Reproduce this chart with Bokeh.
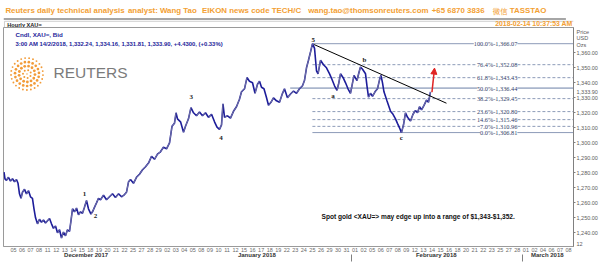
import numpy as np
from bokeh.plotting import figure
from bokeh.layouts import column
from bokeh.models import (LabelSet, ColumnDataSource, LinearAxis, FixedTicker,
                          Range1d, Arrow, NormalHead, NumeralTickFormatter)
from bokeh.core.properties import value
from bokeh.embed import file_html
from bokeh.resources import INLINE

# ---------------- data ----------------
day_labels = ["05", "06", "07", "08", "11", "12", "13", "14", "15", "18", "19", "20", "21", "22", "25",
              "27", "28", "29",
              "02", "03", "04", "05", "08", "09", "10", "11", "12", "15", "16", "17", "18", "19", "22",
              "23", "24", "25", "26", "29", "30", "31",
              "01", "02", "05", "06", "07", "08", "09", "12", "13", "14", "15", "16", "18", "20", "21",
              "22", "23", "25", "27", "28",
              "01", "02", "04", "06", "07", "08"]
month_names = ["December 2017", "January 2018", "February 2018", "March 2018"]
month_center = [8.5, 28.5, 49.5, 62.5]
month_bounds = [39.6, 59.6]

price_idx = [-1.11, -1.0, -0.82, -0.59, -0.35, -0.12, 0.12, 0.35, 0.53, 0.70, 0.88, 1.05, 1.29, 1.52,
             1.76, 1.99, 2.22, 2.40, 2.58, 2.81, 3.04, 3.28, 3.51, 3.75, 3.98, 4.22, 4.45, 4.68, 4.92,
             5.15, 5.39, 5.62, 5.85, 6.09, 6.32, 6.56, 6.73, 6.91, 7.14, 7.38, 7.61, 7.85, 8.08, 8.31,
             8.55, 8.78, 9.07, 9.25, 9.48, 9.72, 9.95, 10.19, 10.54, 10.89, 11.24, 11.59, 11.94, 12.30,
             12.65, 13.0, 13.23, 13.47, 13.70, 14.05, 14.40, 14.75, 15.11, 15.46, 15.81, 16.16, 16.51,
             16.86, 17.21, 17.56, 17.92, 18.27, 18.56, 18.85, 19.03, 19.2, 19.56, 19.91, 20.14, 20.49,
             20.78, 21.08, 21.43, 21.78, 22.13, 22.48, 22.83, 23.19, 23.54, 23.83, 24.12, 24.36, 24.53,
             24.71, 25.06, 25.41, 25.76, 26.11, 26.46, 26.70, 27.05, 27.34, 27.63, 27.99, 28.28, 28.57,
             28.81, 29.04, 29.33, 29.63, 29.86, 30.15, 30.44, 30.80, 31.15, 31.50, 31.73, 32.08, 32.44,
             32.79, 33.14, 33.49, 33.84, 34.07, 34.31, 34.54, 34.78, 35.01, 35.25, 35.48, 35.66, 35.95,
             36.30, 36.65, 37.01, 37.24, 37.59, 37.88, 38.06, 38.29, 38.64, 38.88, 39.17, 39.46, 39.70,
             39.87, 40.22, 40.46, 40.63, 40.87, 41.22, 41.39, 41.57, 41.80, 42.04, 42.33, 42.62, 42.86,
             43.03, 43.21, 43.38, 43.73, 43.97, 44.15, 44.44, 44.73, 44.96, 45.20, 45.43, 45.67, 45.90,
             46.14, 46.49, 46.78, 47.07, 47.31, 47.54, 47.78, 48.07, 48.36, 48.59, 48.83]
price_val = [1280.5, 1276, 1275, 1277, 1274.5, 1276, 1274, 1275.5, 1273, 1266, 1263, 1267, 1269, 1266,
             1268, 1264, 1263, 1256, 1250, 1246, 1249, 1247, 1248.5, 1246.5, 1248, 1249.5, 1246, 1243, 1244.5,
             1240, 1242, 1236.5, 1240.5, 1238, 1242, 1241, 1248, 1256, 1254, 1256.5, 1252, 1254, 1253, 1257,
             1261.5, 1256, 1252.5, 1254, 1257, 1260, 1263, 1262, 1265, 1262, 1264, 1266, 1263.5, 1266,
             1264, 1265.5, 1267, 1274, 1275.5, 1273, 1277, 1279, 1282, 1284, 1286.5, 1291, 1289,
             1292.5, 1294, 1297, 1296, 1300, 1311, 1313, 1320, 1316, 1314, 1307, 1311, 1316,
             1323.5, 1320, 1318, 1320.5, 1318, 1320, 1317, 1319, 1314, 1310.5, 1309, 1312, 1326,
             1317, 1318, 1316.5, 1321, 1324, 1329, 1334, 1336, 1343.5, 1341, 1340, 1333, 1339,
             1341, 1337, 1336, 1330, 1325, 1327, 1330, 1328, 1327, 1333, 1336, 1330, 1332.5,
             1334.5, 1333, 1336, 1338, 1341.5, 1350, 1355, 1360.5, 1366.1, 1363, 1348, 1346, 1355,
             1352, 1350, 1346, 1343, 1338, 1335, 1339, 1346, 1343, 1340, 1336, 1333, 1340,
             1345, 1341.5, 1347, 1350.5, 1349, 1346, 1338, 1330.5, 1333, 1331, 1334, 1336, 1342,
             1345, 1340, 1334, 1328, 1324, 1321, 1319, 1316, 1313, 1310, 1306.8, 1312, 1320,
             1317, 1314.5, 1319, 1321.5, 1320, 1324, 1322, 1325, 1328.5, 1327, 1333.9]
assert len(price_idx) == len(price_val)

fib_pct = [100.0, 76.4, 61.8, 50.0, 38.2, 23.6, 14.6, 7.0, 0.0]
fib_price = [1366.07, 1352.08, 1343.43, 1336.44, 1329.45, 1320.80, 1315.46, 1310.96, 1306.81]
fib_start = 35.0
fib_mid_start = 32.4

wave_text = ["1", "2", "3", "4", "5", "a", "b", "c"]
wave_idx = [8.3, 9.6, 20.8, 24.3, 35.1, 37.4, 41.1, 45.4]
wave_price = [1266.2, 1251.5, 1330.4, 1303.1, 1368.7, 1331.5, 1355.5, 1302.9]

trend_idx = [35.2, 50.7]
trend_price = [1365.5, 1326.4]
arrow_idx = [49.0, 49.3]
arrow_price = [1333.8, 1349.8]

last_price = 1333.90
y_ticks = [float(v) for v in range(1240, 1361, 10)]
unit_text = ["Price", "USD", "Ozs"]
unit_price = [1374.2, 1369.9, 1365.5]
corner_price = 1232.5

# ---------------- layout constants ----------------
FL, FR = 3, 573
FT, FB = 27, 246
X0, X1 = -1.171, 65.574
Y0, Y1 = 1230.87, 1376.87
FONT = "Liberation Sans"
ORANGE = "#f3a033"
NAVY = "#1d1d9a"


def px2x(cx):
    return X0 + (cx - FL) / (FR - FL) * (X1 - X0)


def px2y(cy):
    return Y0 + (FB - cy) / (FB - FT) * (Y1 - Y0)


def deco_fig(h):
    f = figure(width=600, height=h, x_range=Range1d(0, 600), y_range=Range1d(h, 0),
               output_backend="svg", toolbar_location=None, min_border=0,
               x_axis_location=None, y_axis_location=None, title=None)
    f.grid.visible = False
    f.outline_line_color = None
    f.background_fill_color = "white"
    f.border_fill_color = "white"
    return f


# ---------------- header ----------------
hf = deco_fig(27)
hdr_x = [2, 131, 209, 320.7, 450.7, 533]
hdr_t = ["Reuters daily technical analysis", "analyst: Wang Tao", "EIKON news code TECH/C",
         "wang.tao@thomsonreuters.com", "+65 6870 3836", "TASSTAO"]
hf.text(x=hdr_x, y=[9.5] * len(hdr_x), text=hdr_t, text_font=value(FONT),
        text_font_size=value("7.9px"), text_font_style="bold", text_color=ORANGE,
        text_baseline="middle")
hf.text(x=[515], y=[9.5], text=["微信"], text_font=value("Noto Sans CJK SC"),
        text_font_size=value("7.4px"), text_color=ORANGE, text_baseline="middle")
hf.quad(left=[0], right=[592], top=[17.4], bottom=[19.6], fill_color="#a6a6a6", line_color=None)
hf.segment(x0=[1], y0=[20.8], x1=[600], y1=[20.8], line_color="#c4c4c4", line_width=0.8)
hf.segment(x0=[1], y0=[20.8], x1=[1], y1=[27], line_color="#c4c4c4", line_width=0.8)
hf.text(x=[4], y=[24], text=["Hourly XAU="], text_font=value(FONT), text_font_size=value("5.6px"),
        text_font_style="bold", text_color="#222222", text_baseline="middle")
hf.text(x=[599], y=[23], text=["2018-02-14 10:37:53 AM"], text_font=value(FONT),
        text_font_size=value("6.9px"), text_font_style="bold", text_color=ORANGE,
        text_baseline="middle", text_align="right")

# ---------------- main chart ----------------
p = figure(frame_width=FR - FL, frame_height=FB - FT, x_range=Range1d(X0, X1),
           y_range=Range1d(Y0, Y1), output_backend="svg", toolbar_location=None,
           y_axis_location="right", title=None,
           min_border_left=FL, min_border_right=600 - FR, min_border_top=0, min_border_bottom=16)
p.grid.visible = False
p.outline_line_color = "#9a9a9a"
p.background_fill_color = "white"
p.border_fill_color = "white"

ya = p.yaxis[0]
extra = {k: t for k, t in zip(unit_price, unit_text)}
extra[last_price] = f"{last_price:,.2f}"
extra[corner_price] = "12"
ya.ticker = FixedTicker(ticks=y_ticks + list(extra.keys()), minor_ticks=y_ticks)
ya.formatter = NumeralTickFormatter(format="0,0.00")
ya.major_label_overrides = extra
ya.major_label_text_font = FONT
ya.major_label_text_font_size = "5.5px"
ya.major_label_text_color = "#5a5a5a"
ya.major_tick_out = 0
ya.major_tick_in = 0
ya.minor_tick_out = 2
ya.minor_tick_in = 0
ya.major_label_standoff = 1
ya.axis_line_color = "#808080"
ya.minor_tick_line_color = "#808080"

xa = p.xaxis[0]
xa.ticker = FixedTicker(ticks=list(range(len(day_labels))))
xa.major_label_overrides = {i: lab for i, lab in enumerate(day_labels)}
xa.major_label_text_font = FONT
xa.major_label_text_font_size = "5.5px"
xa.major_label_text_color = "#6a6a6a"
xa.major_tick_out = 0
xa.major_tick_in = 0
xa.minor_tick_out = 0
xa.minor_tick_in = 0
xa.major_label_standoff = 1
xa.axis_line_color = "#9a9a9a"

ma = LinearAxis(ticker=FixedTicker(ticks=month_center, minor_ticks=month_bounds),
                major_label_overrides={c: n for c, n in zip(month_center, month_names)})
ma.major_label_text_font = FONT
ma.major_label_text_font_size = "6px"
ma.major_label_text_font_style = "bold"
ma.major_label_text_color = "#333333"
ma.major_tick_out = 0
ma.major_tick_in = 0
ma.minor_tick_out = 0
try:
    ma.minor_tick_in = -7
except Exception:
    ma.minor_tick_in = 0
ma.minor_tick_line_color = "#808080"
ma.major_label_standoff = -3
ma.axis_line_color = None
p.add_layout(ma, "below")

# fib lines
for pct, pr in zip(fib_pct, fib_price):
    if pct == 50.0:
        p.line([fib_mid_start, X1], [pr, pr], line_color="#aab6cc", line_width=1.6)
    elif pct in (100.0, 0.0):
        p.line([fib_start, X1], [pr, pr], line_color="#8d9bb8", line_width=1)
    else:
        p.line([fib_start, X1], [pr, pr], line_color="#8d9bb8", line_width=1, line_dash="3 2")

fib_src = ColumnDataSource(dict(
    x=[59.0] * len(fib_pct), y=fib_price,
    t=[f"{pc:.1f}%-{pr:,.2f}" for pc, pr in zip(fib_pct, fib_price)]))
p.add_layout(LabelSet(x="x", y="y", text="t", source=fib_src, text_align="right",
                      text_baseline="middle", text_font_size="6.3px", text_font=FONT,
                      text_color="#2e3c68", background_fill_color="white",
                      background_fill_alpha=1.0))

# price line
p.line(price_idx, price_val, line_color=NAVY, line_width=1.6)
up_x0, up_y0, up_x1, up_y1 = [], [], [], []
for i in range(1, len(price_val)):
    if price_val[i] > price_val[i - 1]:
        up_x0.append(price_idx[i - 1]); up_y0.append(price_val[i - 1])
        up_x1.append(price_idx[i]); up_y1.append(price_val[i])
p.segment(up_x0, up_y0, up_x1, up_y1, line_color="#8a8aa6", line_width=0.8)

# trend line and arrow
p.line(trend_idx, trend_price, line_color="black", line_width=1)
p.add_layout(Arrow(end=NormalHead(size=6, fill_color="#e02424", line_color="#e02424"),
                   x_start=arrow_idx[0], y_start=arrow_price[0],
                   x_end=arrow_idx[1], y_end=arrow_price[1],
                   line_color="#e02424", line_width=1.5))

# wave labels
wsrc = ColumnDataSource(dict(x=wave_idx, y=wave_price, t=wave_text))
p.add_layout(LabelSet(x="x", y="y", text="t", source=wsrc, text_align="center",
                      text_baseline="middle", text_font_size="7px", text_font=FONT,
                      text_font_style="bold", text_color="#222222"))

# Reuters logo (decoration)
lcx, lcy = 26.5, 73.5
lx, ly, ls = [], [], []
for r, n, s in [(0.0, 1, 1.4), (4.0, 7, 2.0), (8.0, 13, 2.8), (12.0, 19, 2.7), (16.0, 25, 1.9)]:
    for k in range(n):
        a = 2 * np.pi * k / n + r * 0.13
        lx.append(px2x(lcx + r * np.cos(a)))
        ly.append(px2y(lcy + r * np.sin(a)))
        ls.append(s)
p.scatter(lx, ly, size=ls, fill_color="#f29b38", line_color=None)


def ptext(text, cx, cy, size, color, bold=False, align="left"):
    p.text(x=[px2x(cx)], y=[px2y(cy)], text=[text], text_font=value(FONT),
           text_font_size=value(size), text_color=color,
           text_font_style="bold" if bold else "normal", text_align=align,
           text_baseline="middle")


ptext("REUTERS", 53, 72, "15.5px", "#7b7b7b")
ptext("Cndl, XAU=, Bid", 15, 34.3, "6.2px", NAVY, True)
ptext("3:00 AM 14/2/2018, 1,332.24, 1,334.16, 1,331.81, 1,333.90, +4.4300, (+0.33%)",
      15, 43.5, "5.9px", NAVY, True)
ptext("Spot gold <XAU=> may edge up into a range of $1,343-$1,352.", 321, 215.7, "6.6px",
      "#111111", True)

# ---------------- scrollbar ----------------
sf = deco_fig(6)
sf.quad(left=[16, 213], right=[213, 580], top=[0.3, 0.3], bottom=[5.7, 5.7],
        fill_color=["#b4b4b4", "#d4d4d4"], line_color=None)
sf.quad(left=[3, 10, 581, 589], right=[9.5, 16, 588, 597], top=[0.3] * 4, bottom=[5.7] * 4,
        fill_color="white", line_color="#666666", line_width=0.6)
sf.scatter(x=[5.2, 7.4, 13, 584.5, 591.6, 593.8], y=[3] * 6, size=3.0,
           marker="triangle", angle=[1.5708, 1.5708, 1.5708, -1.5708, -1.5708, -1.5708],
           fill_color="#333333", line_color=None)
sf.quad(left=[381], right=[415], top=[1.0], bottom=[4.4], fill_color="#9a9a9a", line_color=None)
sf.text(x=[398], y=[2.6], text=["1364 Data Period"], text_font=value(FONT),
        text_font_size=value("3px"), text_font_style="bold", text_color="white",
        text_baseline="middle", text_align="center")

layout = column(hf, p, sf, spacing=0)
open("out.html", "w").write(file_html(layout, INLINE))
